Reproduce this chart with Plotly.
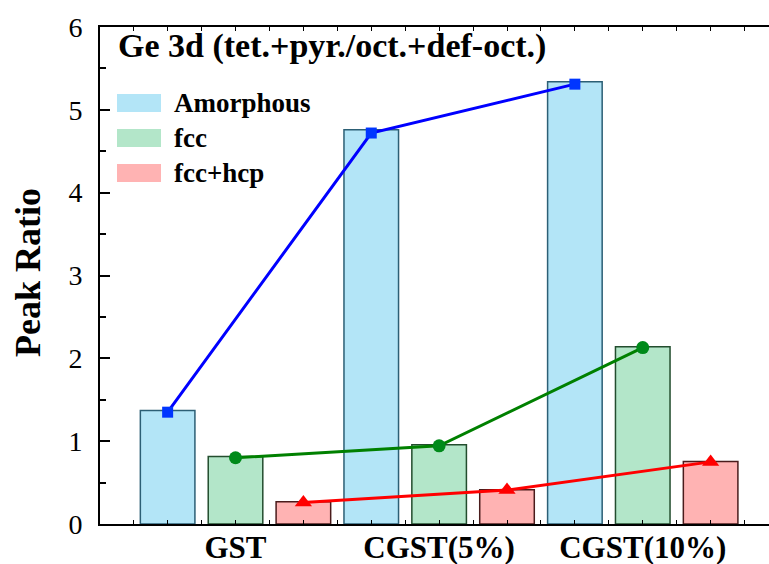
import plotly.graph_objects as go

categories = ["GST", "CGST(5%)", "CGST(10%)"]
series_names = ["Amorphous", "fcc", "fcc+hcp"]
bar_amorphous = [1.37, 4.76, 5.34]
bar_fcc = [0.815, 0.957, 2.14]
bar_fcchcp = [0.27, 0.414, 0.755]
line_amorphous = [1.35, 4.72, 5.31]
line_fcc = [0.80, 0.944, 2.13]
line_fcchcp = [0.26, 0.41, 0.75]
y_ticks = [0, 1, 2, 3, 4, 5, 6]
title_text = "Ge 3d (tet.+pyr./oct.+def-oct.)"

fills = ["#B3E5F7", "#B3E6C9", "#FFB3B3"]
outlines = ["#2C5F75", "#234D2E", "#4A1C1C"]
line_cols = ["#0000FF", "#008000", "#FF0000"]
marker_cols = ["#0035FF", "#008A1A", "#FF0000"]
symbols = ["square", "circle", "triangle-up"]
msizes = [11, 13, 15]
offsets = [-1/3, 0.0, 1/3]
bar_w = 0.268

FONT = "Liberation Serif"
idx = list(range(len(categories)))

fig = go.Figure()
for vals, fc, oc, off, name in zip([bar_amorphous, bar_fcc, bar_fcchcp], fills, outlines, offsets, series_names):
    fig.add_trace(go.Bar(
        x=[i + off for i in idx], y=vals, width=bar_w, name=name,
        marker=dict(color=fc, line=dict(color=oc, width=1.5)),
        showlegend=False,
    ))
for vals, lc, mc, sym, ms, off, name in zip([line_amorphous, line_fcc, line_fcchcp], line_cols, marker_cols, symbols, msizes, offsets, series_names):
    fig.add_trace(go.Scatter(
        x=[i + off for i in idx], y=vals, mode="lines+markers", name=name,
        line=dict(color=lc, width=3),
        marker=dict(symbol=sym, size=ms, color=mc, line=dict(width=0)),
        showlegend=False,
    ))

W, H = 769, 564
ml, mt, mb, mr = 100, 27, 40, 0
pw, ph = W - ml - mr, H - mt - mb


def px2paper(px, py):
    return (px - ml) / pw, (H - mb - py) / ph


shapes = []
annotations = []
leg_y = [103, 138, 173]
for name, fc, py in zip(series_names, fills, leg_y):
    x0, y0 = px2paper(117, py + 9)
    x1, y1 = px2paper(161, py - 9)
    shapes.append(dict(type="rect", xref="paper", yref="paper", x0=x0, x1=x1, y0=y0, y1=y1,
                       fillcolor=fc, line=dict(width=0)))
    tx, ty = px2paper(172, py)
    annotations.append(dict(xref="paper", yref="paper", x=tx, y=ty, text="<b>%s</b>" % name,
                            showarrow=False, xanchor="left", yanchor="middle",
                            font=dict(family=FONT, size=27, color="black")))

tx, ty = px2paper(116, 46)
annotations.append(dict(xref="paper", yref="paper", x=tx, y=ty, text="<b>%s</b>" % title_text,
                        showarrow=False, xanchor="left", yanchor="middle",
                        font=dict(family=FONT, size=34, color="black")))
tx, ty = px2paper(28, 273)
annotations.append(dict(xref="paper", yref="paper", x=tx, y=ty, text="<b>Peak Ratio</b>",
                        showarrow=False, xanchor="center", yanchor="middle", textangle=-90,
                        font=dict(family=FONT, size=36, color="black")))

fig.update_layout(
    width=W, height=H,
    margin=dict(l=ml, r=mr, t=mt, b=mb, pad=0, autoexpand=False),
    paper_bgcolor="white", plot_bgcolor="white",
    font=dict(family=FONT),
    shapes=shapes, annotations=annotations,
    xaxis=dict(
        range=[-0.6655, 2.62], tickmode="array", tickvals=idx,
        ticktext=["<b>%s</b>" % c for c in categories],
        tickfont=dict(family=FONT, size=31, color="black"),
        ticks="inside", ticklen=4, tickwidth=1, tickcolor="black",
        minor=dict(tickmode="linear", tick0=0, dtick=1/6, ticks="inside", ticklen=4, tickwidth=1, tickcolor="black"),
        showline=True, linecolor="black", linewidth=2, mirror="ticks",
        showgrid=False, zeroline=False, fixedrange=True, automargin=False,
        ticklabelstandoff=-5,
    ),
    yaxis=dict(
        range=[0, 6], tickmode="array", tickvals=y_ticks,
        tickfont=dict(family=FONT, size=28, color="black"),
        ticks="inside", ticklen=10, tickwidth=2, tickcolor="black",
        minor=dict(tickmode="linear", tick0=0, dtick=0.5, ticks="inside", ticklen=6, tickwidth=2, tickcolor="black"),
        showline=True, linecolor="black", linewidth=2,
        showgrid=False, zeroline=False, ticklabelstandoff=10, automargin=False,
    ),
)

fig.write_html("out.html")
